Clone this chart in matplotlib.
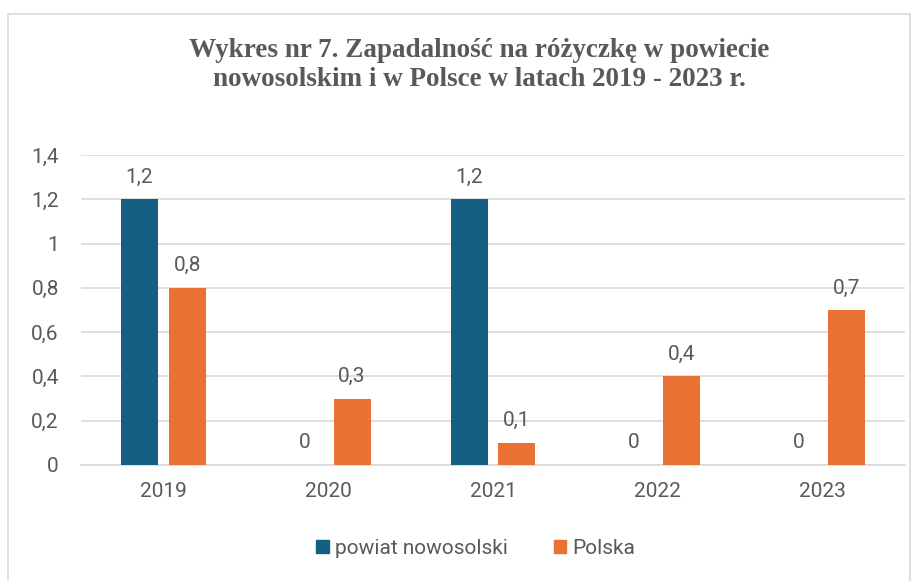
import numpy as np
import matplotlib.pyplot as plt
from matplotlib.patches import Rectangle, Patch
from matplotlib.ticker import FuncFormatter

years = ["2019", "2020", "2021", "2022", "2023"]
powiat = [1.2, 0, 1.2, 0, 0]
polska = [0.8, 0.3, 0.1, 0.4, 0.7]

blue = "#156082"
orange = "#E97132"
grey = "#595959"

plt.rcParams['font.family'] = ['Roboto', 'DejaVu Sans']

fig = plt.figure(figsize=(9.17, 5.81), dpi=100)
ax = fig.add_axes([81/917, 1 - 465/581, (905-81)/917, (465-155)/581])

x = np.arange(len(years))
w = 0.225
off = 0.145
b1 = ax.bar(x - off, powiat, w, color=blue, zorder=3)
b2 = ax.bar(x + off, polska, w, color=orange, zorder=3)

fmt = lambda v: ("%g" % v).replace(".", ",")
for bars, vals in ((b1, powiat), (b2, polska)):
    for r, v in zip(bars, vals):
        ax.annotate(fmt(v), (r.get_x() + r.get_width() / 2, v),
                    xytext=(0, 9), textcoords="offset points",
                    ha="center", va="bottom", fontsize=15, color=grey)

ax.set_xlim(-0.5, len(years) - 0.5)
ax.set_ylim(0, 1.4)
ax.set_yticks(np.arange(0, 1.41, 0.2))
ax.yaxis.set_major_formatter(FuncFormatter(lambda v, p: fmt(round(v, 1))))
ax.set_xticks(x)
ax.set_xticklabels(years)
ax.tick_params(axis="both", length=0, labelsize=15, labelcolor=grey)
ax.tick_params(axis="y", pad=16)
ax.tick_params(axis="x", pad=12)
ax.grid(axis="y", color="#D9D9D9", linewidth=1.2, zorder=0)
for s in ["top", "right", "left"]:
    ax.spines[s].set_visible(False)
ax.spines["bottom"].set_color("#D9D9D9")
ax.spines["bottom"].set_linewidth(1.2)

fig.text(479/917, 1 - 65/581,
         "Wykres nr 7. Zapadalność na różyczkę w powiecie\nnowosolskim i w Polsce w latach 2019 - 2023 r.",
         ha="center", va="center", fontsize=19.5, fontweight="bold",
         family=["Liberation Serif", "DejaVu Serif"], color=grey, linespacing=1.25)

handles = [Patch(color=blue, label="powiat nowosolski"), Patch(color=orange, label="Polska")]
fig.legend(handles=handles, loc="center", bbox_to_anchor=(476/917, 1 - 548/581),
           ncol=2, frameon=False, fontsize=15, labelcolor=grey,
           handlelength=0.6, handleheight=0.6, handletextpad=0.3, columnspacing=2.2)

fig.patches.append(Rectangle((8/917, -0.01), (910-8)/917, 1 - 14/581 + 0.01,
                             transform=fig.transFigure, fill=False,
                             edgecolor="#D9D9D9", linewidth=1.2))

plt.savefig("out.png", dpi=100)
